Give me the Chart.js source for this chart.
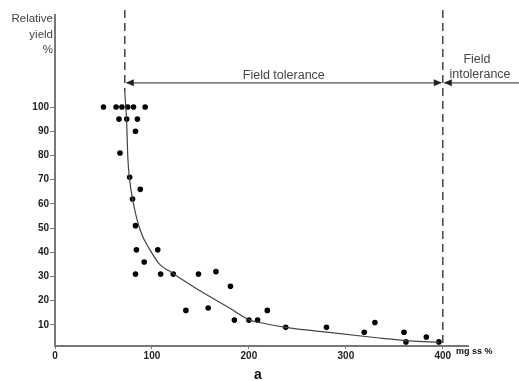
<!DOCTYPE html>
<html>
<head>
<meta charset="utf-8">
<script src="https://cdn.jsdelivr.net/npm/chart.js@4/dist/chart.umd.min.js"></script>
<style>
  body { margin: 0; background: #fff; }
</style>
</head>
<body>
<canvas id="chart" width="519" height="381"></canvas>
<script>
// Observed points (mg ss %, relative yield %)
const pointX = [50, 63, 69, 75, 81, 93, 66, 74, 85, 83, 67, 77, 88, 80, 83, 84, 106, 92, 83, 109,
                122, 135, 148, 158, 166, 181, 185, 200, 209, 219, 238, 280, 319, 330, 360, 362, 383, 396];
const pointY = [100, 100, 100, 100, 100, 100, 95, 95, 95, 90, 81, 71, 66, 62, 51, 41, 41, 36, 31, 31,
                31, 16, 31, 17, 32, 26, 12, 12, 12, 16, 9, 9, 7, 11, 7, 3, 5, 3];

// Fitted curve
const curveX = [72, 74, 75, 77, 80, 88, 98, 108, 119, 150, 180, 201, 211, 238, 280, 332, 366, 396];
const curveY = [106, 93, 80, 70, 62, 49, 41, 35, 32, 24, 17, 12, 11, 9, 7, 4.7, 3.4, 2.8];

const xTicks = [0, 100, 200, 300, 400];
const yTicks = [10, 20, 30, 40, 50, 60, 70, 80, 90, 100];

// limits of the tolerance zone and level of the arrows
const toleranceStart = 72;
const toleranceEnd = 400;
const arrowLevel = 110;

const scatterData = pointX.map((x, i) => ({ x: x, y: pointY[i] }));
const curveData = curveX.map((x, i) => ({ x: x, y: curveY[i] }));

const fontFamily = '"Liberation Sans", Arial, sans-serif';

function arrowHead(ctx, x, y, dir) {
    ctx.beginPath();
    ctx.moveTo(x, y);
    ctx.lineTo(x - dir * 8, y - 3.5);
    ctx.lineTo(x - dir * 8, y + 3.5);
    ctx.closePath();
    ctx.fill();
}

// dashed limits, arrows and labels
const extras = {
    id: 'extras',
    afterDraw(chart) {
        const ctx = chart.ctx;
        const xs = chart.scales.x, ys = chart.scales.y;
        const x1 = xs.getPixelForValue(toleranceStart);
        const x2 = xs.getPixelForValue(toleranceEnd);
        const yA = ys.getPixelForValue(arrowLevel);
        ctx.save();

        ctx.strokeStyle = '#444';
        ctx.lineWidth = 1.5;
        ctx.setLineDash([8, 5]);
        ctx.beginPath();
        ctx.moveTo(x1, 10);
        ctx.lineTo(x1, ys.getPixelForValue(106));
        ctx.moveTo(x2, 10);
        ctx.lineTo(x2, ys.bottom);
        ctx.stroke();
        ctx.setLineDash([]);

        ctx.strokeStyle = '#555';
        ctx.lineWidth = 1.2;
        ctx.beginPath();
        ctx.moveTo(x1 + 2, yA);
        ctx.lineTo(x2 - 2, yA);
        ctx.moveTo(x2 + 2, yA);
        ctx.lineTo(chart.width, yA);
        ctx.stroke();
        ctx.fillStyle = '#222';
        arrowHead(ctx, x1 + 1, yA, -1);
        arrowHead(ctx, x2 - 1, yA, 1);
        arrowHead(ctx, x2 + 1, yA, -1);

        ctx.fillStyle = '#444';
        ctx.font = '12.5px ' + fontFamily;
        ctx.textAlign = 'center';
        ctx.textBaseline = 'alphabetic';
        ctx.fillText('Field tolerance', (x1 + x2) / 2, yA - 4);
        ctx.fillText('Field', 477, 63);
        ctx.fillText('intolerance', 480, 78);

        ctx.textAlign = 'right';
        ctx.font = '11.5px ' + fontFamily;
        ctx.fillText('Relative', 53, 22);
        ctx.fillText('yield', 53, 38);
        ctx.fillText('%', 53, 53);

        ctx.fillStyle = '#111';
        ctx.textAlign = 'left';
        ctx.font = 'bold 9px ' + fontFamily;
        ctx.fillText('mg ss %', 456, 354);
        ctx.textAlign = 'center';
        ctx.font = 'bold 14px ' + fontFamily;
        ctx.fillText('a', 258, 379);
        ctx.restore();
    }
};

new Chart(document.getElementById('chart'), {
    type: 'scatter',
    data: {
        datasets: [
            {
                data: curveData,
                showLine: true,
                borderColor: '#444',
                borderWidth: 1.2,
                pointRadius: 0,
                cubicInterpolationMode: 'monotone',
                fill: false
            },
            {
                data: scatterData,
                pointRadius: 2.8,
                pointBackgroundColor: '#000',
                pointBorderWidth: 0
            }
        ]
    },
    options: {
        responsive: false,
        animation: false,
        layout: { padding: { top: 15, right: 51, left: 0, bottom: 0 } },
        plugins: { legend: { display: false }, tooltip: { enabled: false } },
        scales: {
            x: {
                type: 'linear',
                min: 0,
                max: 426,
                afterBuildTicks: s => { s.ticks = xTicks.map(v => ({ value: v })); },
                afterFit: s => { s.height = 35; },
                border: { color: '#777', width: 2 },
                grid: { drawOnChartArea: false, color: '#777', tickLength: 3 },
                ticks: {
                    color: '#222',
                    padding: 1,
                    maxRotation: 0,
                    font: { family: fontFamily, size: 10, weight: 'bold' }
                }
            },
            y: {
                type: 'linear',
                min: 1.3,
                max: 138,
                afterBuildTicks: s => { s.ticks = yTicks.map(v => ({ value: v })); },
                afterFit: s => { s.width = 55; },
                border: { color: '#777', width: 2 },
                grid: { drawOnChartArea: false, color: '#777', tickLength: 5 },
                ticks: {
                    color: '#222',
                    padding: 1,
                    font: { family: fontFamily, size: 10, weight: 'bold' }
                }
            }
        }
    },
    plugins: [extras]
});
</script>
</body>
</html>
